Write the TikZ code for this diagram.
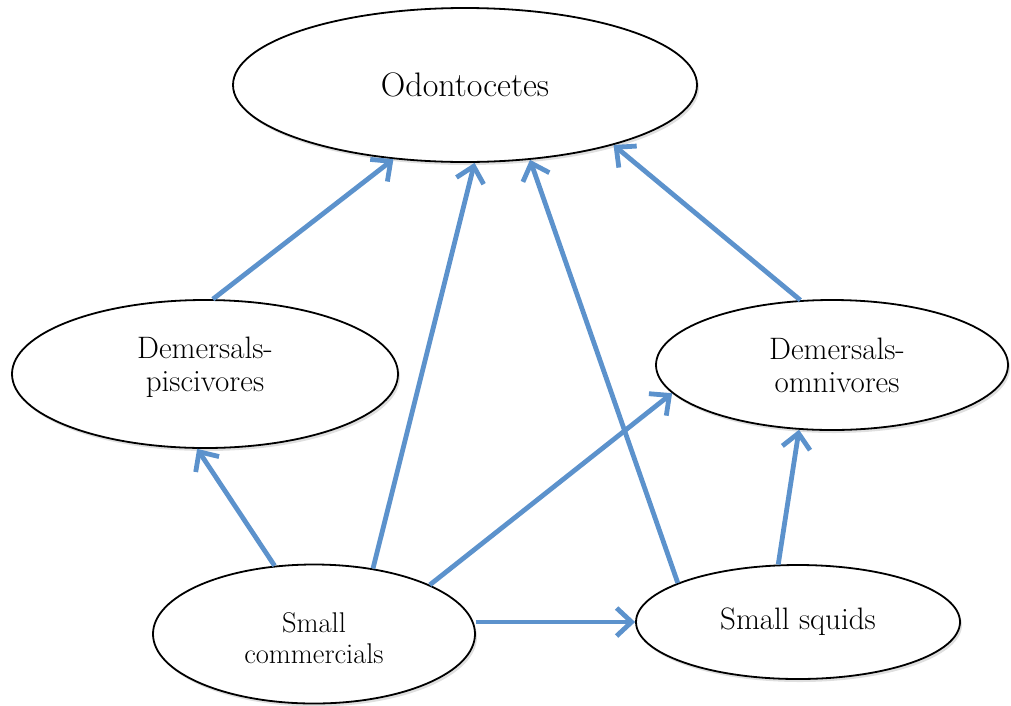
\documentclass[tikz,border=0pt]{standalone}
\usetikzlibrary{arrows.meta,shapes.geometric,shadows,calc}
\definecolor{arrowblue}{RGB}{92,146,204}
\begin{document}
\begin{tikzpicture}[x=1pt,y=-1pt,
  oval/.style={ellipse,draw=black,line width=1.8pt,fill=white,inner sep=0pt,
    drop shadow={opacity=0.25,shadow xshift=2pt,shadow yshift=-3pt}},
  lbl/.style={align=center,inner sep=0pt},
  link/.style={draw=arrowblue,line width=4.8pt,
    -{Straight Barb[length=15pt,width=28pt]}}
]
\useasboundingbox (0,0) rectangle (1011,705);
% ellipses
\node[oval,minimum width=464pt,minimum height=154pt] (odo) at (465,85) {};
\node[oval,minimum width=386pt,minimum height=148pt] (pisc) at (205,374) {};
\node[oval,minimum width=352pt,minimum height=130pt] (omni) at (832,365) {};
\node[oval,minimum width=322pt,minimum height=139pt] (sc) at (314,634) {};
\node[oval,minimum width=324pt,minimum height=114pt] (squid) at (798,622) {};
% labels
\node[lbl,font=\fontsize{34}{40}\selectfont] (odoT) at (odo) {Odontocetes};
\node[lbl,font=\fontsize{31}{33}\selectfont] (piscT) at ([yshift=7pt]pisc.center) {Demersals-\\piscivores};
\node[lbl,font=\fontsize{31}{33}\selectfont] (omniT) at ([xshift=5pt]omni.center) {Demersals-\\omnivores};
\node[lbl,font=\fontsize{31}{36}\selectfont] (squidT) at (squid) {Small squids};
\node[lbl,font=\fontsize{28.5}{31}\selectfont] (scT) at ([yshift=-4pt]sc.center) {Small\\commercials};
% connectors
\draw[link] (pisc.84) -- (odo.226.9);
\draw[link] (sc.48.4) -- (odo.277.3);
\draw[link] (squid.162.1) -- (odo.311.9);
\draw[link] (omni.116.9) -- (odo.338.5);
\draw[link] (sc.120) -- (pisc.264.1);
\draw[link] (sc.23.3) -- (omni.190.1);
\draw[link] (sc.east |- squid.west) -- (squid.west);
\draw[link] (squid.109.3) -- (omni.243.1);
\end{tikzpicture}
\end{document}
